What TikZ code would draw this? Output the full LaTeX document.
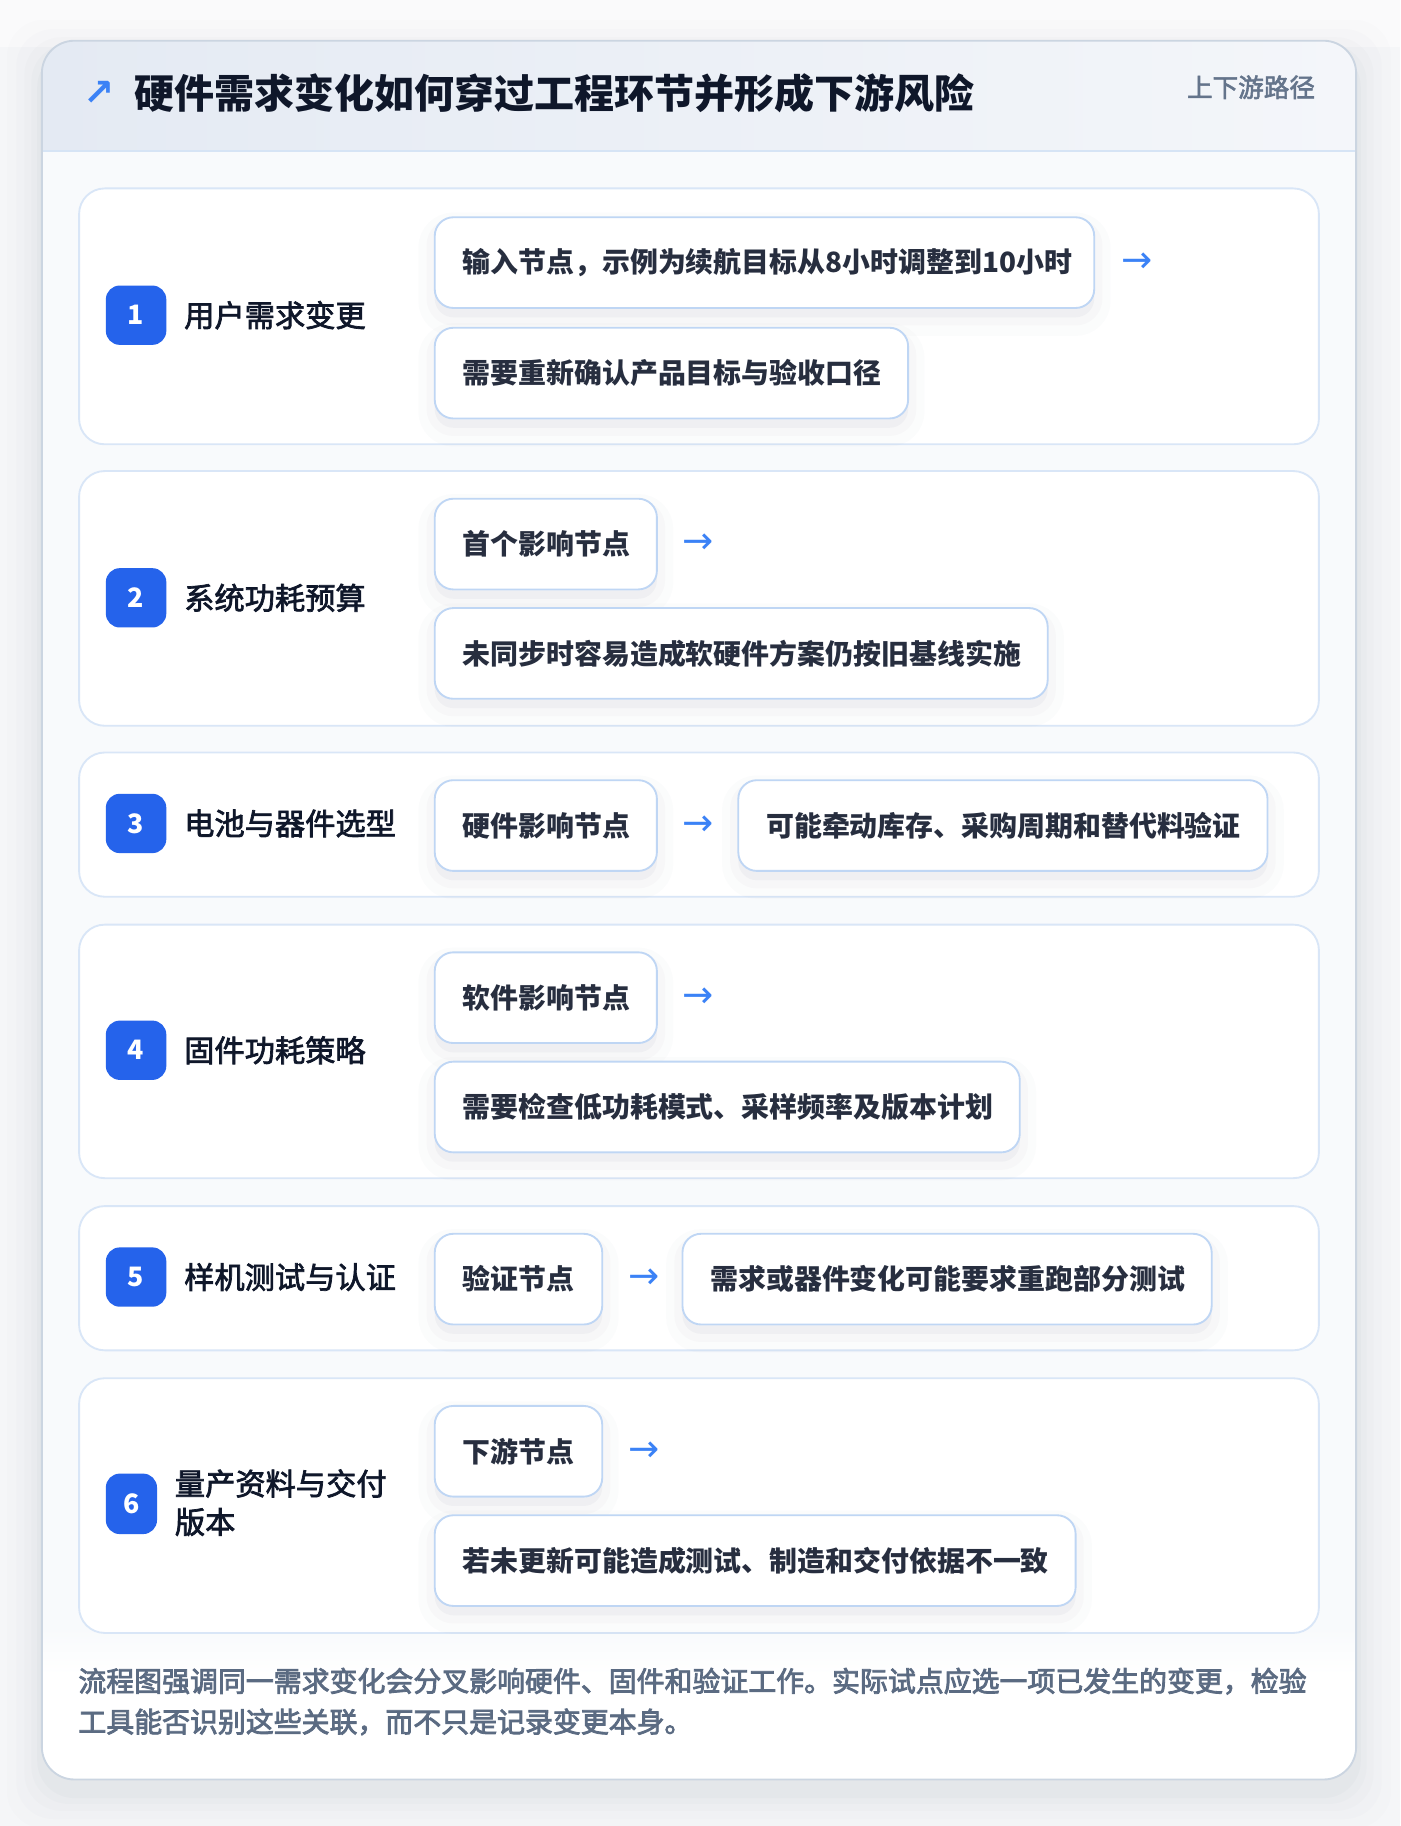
\documentclass[tikz,border=0pt]{standalone}
\usepackage{fontspec}
\setmainfont{Noto Sans CJK SC}
\newfontfamily\sym{DejaVu Sans}
\newcommand\thk[2][0.3]{\special{pdf:literal direct #1 w 2 Tr}#2\special{pdf:literal direct 0 Tr}}
\definecolor{pagebg}{HTML}{F5F6F8}
\definecolor{cardborder}{HTML}{CBD5E1}
\definecolor{headL}{HTML}{E4EAF3}
\definecolor{headR}{HTML}{F4F6FA}
\definecolor{headline}{HTML}{D6E4F5}
\definecolor{contentbg}{HTML}{F8FAFC}
\definecolor{rowborder}{HTML}{D9E6F7}
\definecolor{boxborder}{HTML}{BFD6F4}
\definecolor{badgec}{HTML}{2563EB}
\definecolor{arrowc}{HTML}{3B82F6}
\definecolor{ink}{HTML}{0F172A}
\definecolor{subc}{HTML}{64748B}
\definecolor{footc}{HTML}{5B6B82}
\definecolor{shad}{HTML}{64748B}
\begin{document}
\begin{tikzpicture}[x=0.5pt,y=-0.5pt,
 rowcard/.style={draw=rowborder, line width=0.8pt, fill=white, rounded corners=11pt},
 badge/.style={fill=badgec, rounded corners=6pt, text=white, font=\fontsize{11.5pt}{13pt}\selectfont\bfseries, inner sep=0pt, minimum width=26pt, minimum height=25.5pt},
 lbl/.style={anchor=west, text=ink, font=\fontsize{13pt}{16.5pt}\selectfont, inner sep=0pt, align=left},
 box/.style={draw=boxborder, line width=0.8pt, fill=white, rounded corners=8pt, minimum height=39pt, text width=#1, inner xsep=12pt, align=left, anchor=north west, text=ink!90!white, font=\fontsize{12pt}{14pt}\selectfont\bfseries,
   preaction={fill=shad, fill opacity=0.05, draw=shad, draw opacity=0.03, line width=7pt, transform canvas={yshift=-4pt}},
   preaction={draw=shad, draw opacity=0.02, line width=14pt, transform canvas={yshift=-5pt}}},
 arr/.style={text=arrowc, font=\sym\fontsize{16pt}{18pt}\selectfont, inner sep=0pt}
]
\useasboundingbox (0,0) rectangle (1204,1570);
\fill[pagebg] (0,0) rectangle (1204,1570);
\fill[white!50!pagebg] (0,0) rectangle (1204,40);
% outer card shadow
\foreach \d/\o in {30/0.012,22/0.015,15/0.02,9/0.025,4/0.03}{
  \fill[shad, fill opacity=\o, rounded corners=16pt] (36-\d,35-\d+12) rectangle (1166+\d,1530+\d+12);
}
% outer card
\fill[white, rounded corners=14pt] (36,35) rectangle (1166,1530);
\begin{scope}
 \clip[rounded corners=14pt] (36,35) rectangle (1166,1530);
 \shade[left color=headL, right color=headR] (36,35) rectangle (1166,130);
 \fill[contentbg] (36,130) rectangle (1166,1400);
 \shade[top color=contentbg, bottom color=white] (36,1400) rectangle (1166,1440);
\end{scope}
\draw[headline, line width=1pt] (36,130) -- (1166,130);
\draw[draw=cardborder, line width=0.8pt, rounded corners=14pt] (36,35) rectangle (1166,1530);
% header
\node[text=arrowc, font=\sym\fontsize{16pt}{18pt}\selectfont\bfseries, inner sep=0pt] (hicon) at (85,80) {↗};
\node[anchor=west, text=ink, font=\fontsize{17.2pt}{20pt}\selectfont\bfseries, inner sep=0pt] (title) at (115,80) {硬件需求变化如何穿过工程环节并形成下游风险};
\node[anchor=east, text=subc, font=\fontsize{11pt}{13pt}\selectfont, inner sep=0pt] (tag) at (1131,75) {\thk[0.25]{上下游路径}};
% row cards
\draw[rowcard] (68,162) rectangle (1134,382);
\draw[rowcard] (68,405) rectangle (1134,624);
\draw[rowcard] (68,647) rectangle (1134,771);
\draw[rowcard] (68,795) rectangle (1134,1013);
\draw[rowcard] (68,1037) rectangle (1134,1161);
\draw[rowcard] (68,1185) rectangle (1134,1404);
% badges and labels
\node[badge] (b1) at (117,271) {1};
\node[lbl] (l1) at (158,271) {\thk{用户需求变更}};
\node[badge] (b2) at (117,514) {2};
\node[lbl] (l2) at (158,514) {\thk{系统功耗预算}};
\node[badge] (b3) at (117,708) {3};
\node[lbl] (l3) at (158,708) {\thk{电池与器件选型}};
\node[badge] (b4) at (117,903) {4};
\node[lbl] (l4) at (158,903) {\thk{固件功耗策略}};
\node[badge] (b5) at (117,1098) {5};
\node[lbl] (l5) at (158,1098) {\thk{样机测试与认证}};
\node[badge, minimum width=22pt, minimum height=26pt] (b6) at (113,1293) {6};
\node[lbl] (l6) at (150,1292) {\thk{量产资料与交付}\\\thk{版本}};
% row 1
\node[box=259.5pt] (r1a) at (373,186) {输入节点，示例为续航目标从8小时调整到10小时};
\node[box=179.5pt] (r1b) at (373,281) {需要重新确认产品目标与验收口径};
\node[arr] (a1) at ([xshift=18pt]r1a.east) {→};
% row 2
\node[box=71.5pt] (r2a) at (373,428) {首个影响节点};
\node[box=239.5pt] (r2b) at (373,522) {未同步时容易造成软硬件方案仍按旧基线实施};
\node[arr] (a2) at ([xshift=17.5pt]r2a.east) {→};
% row 3
\node[box=71.5pt] (r3a) at (373,670) {硬件影响节点};
\node[box=203.5pt] (r3b) at (634,670) {可能牵动库存、采购周期和替代料验证};
\node[arr] (a3) at ([xshift=17.5pt]r3a.east) {→};
% row 4
\node[box=71.5pt] (r4a) at (373,818) {软件影响节点};
\node[box=227.5pt] (r4b) at (373,912) {需要检查低功耗模式、采样频率及版本计划};
\node[arr] (a4) at ([xshift=17.5pt]r4a.east) {→};
% row 5
\node[box=48pt] (r5a) at (373,1060) {验证节点};
\node[box=203.5pt] (r5b) at (586,1060) {需求或器件变化可能要求重跑部分测试};
\node[arr] (a5) at ([xshift=17.5pt]r5a.east) {→};
% row 6
\node[box=48pt] (r6a) at (373,1208) {下游节点};
\node[box=251.5pt] (r6b) at (373,1302) {若未更新可能造成测试、制造和交付依据不一致};
\node[arr] (a6) at ([xshift=17.5pt]r6a.east) {→};
% footer
\node[anchor=west, text=footc, font=\fontsize{12pt}{17.5pt}\selectfont, inner sep=0pt, align=left] (foot) at (67,1463)
 {\thk[0.35]{流程图强调同一需求变化会分叉影响硬件、固件和验证工作。实际试点应选一项已发生的变更，检验}\\\thk[0.35]{工具能否识别这些关联，而不只是记录变更本身。}};
\end{tikzpicture}
\end{document}
